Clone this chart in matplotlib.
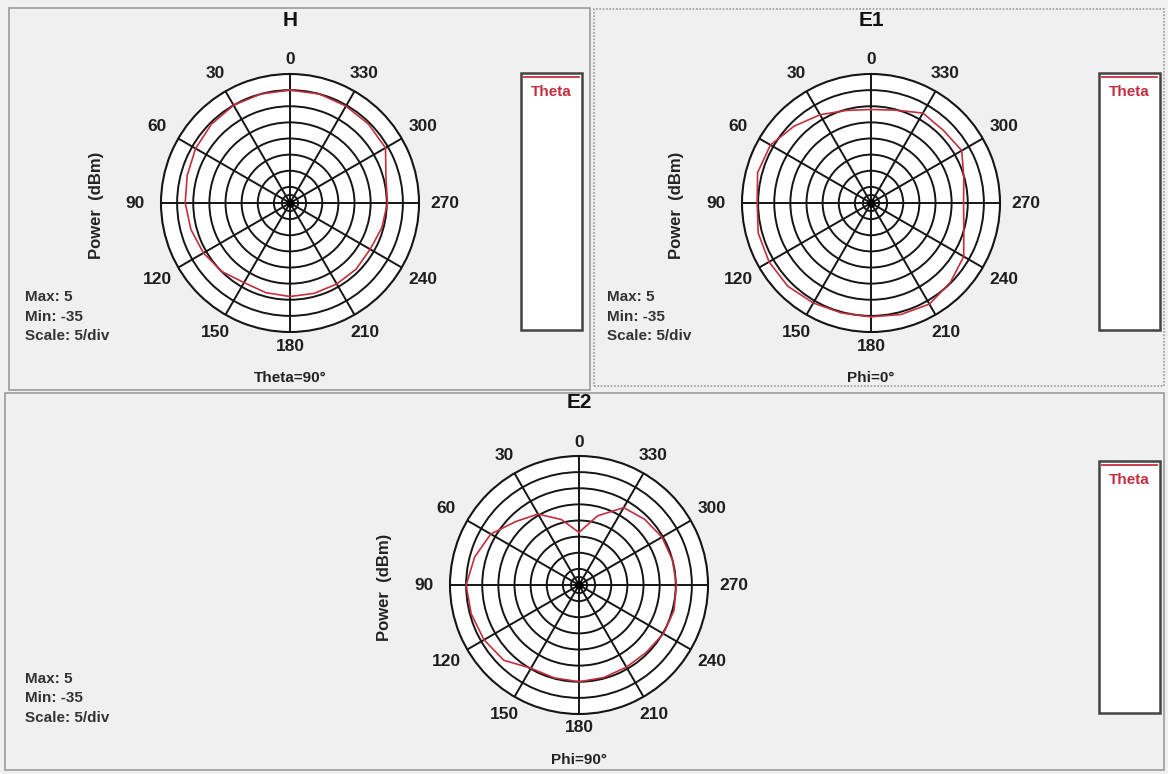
import numpy as np
import matplotlib
matplotlib.use("Agg")
import matplotlib.pyplot as plt
from matplotlib.patches import Rectangle
from matplotlib.lines import Line2D

# dados (angulo em graus, potencia em dBm)
angles_deg = [0, 15, 30, 45, 60, 75, 90, 105, 120, 135, 150, 165,
              180, 195, 210, 225, 240, 255, 270, 285, 300, 315, 330, 345]
h_power = [0, 0, 0, -0.5, -1.2, -2, -2.5, -3.2, -4, -5, -6.5, -6.2,
           -6, -6, -6, -6, -6.3, -5.5, -4.8, -4.2, -0.8, -0.5, -0.3, 0]
e1_power = [-6, -5.3, -3.4, -1.3, 1.0, 1.4, 0.3, 1.2, 1.5, 1.5, 0.8, 0.3,
            0.3, 0.8, 1.2, -0.2, -1.8, -5.2, -6.3, -5.2, -2.5, -3.2, -2.8, -5.2]
e2_power = [-18.7, -14, -9.6, -7.2, -3.4, -1.5, 0, -0.4, -1, -2, -5.2, -5.2,
            -5, -5.3, -5.6, -5.5, -4.8, -4.5, -4.8, -5, -5.3, -6.2, -7.3, -12.8]

grid_angles = [0, 30, 60, 90, 120, 150, 180, 210, 240, 270, 300, 330]
r_max, r_min, r_step = 5, -35, 5

W, H = 1168, 774
BG = "#f0f0f0"
RED = "#c42f3f"
FONT = "Liberation Sans"

fig = plt.figure(figsize=(W / 100, H / 100), dpi=100, facecolor=BG)


def fx(x):
    return x / W


def fy(y):
    return 1 - y / H


def panel_box(x0, y0, x1, y1, dotted=False):
    ls = (0, (1, 1)) if dotted else "-"
    fig.add_artist(Rectangle((fx(x0), fy(y1)), fx(x1 - x0), (y1 - y0) / H,
                             transform=fig.transFigure, facecolor=BG,
                             edgecolor="#9a9a9a", lw=1.2, ls=ls, zorder=0))


def legend_box(x0, y0, x1, y1):
    fig.add_artist(Rectangle((fx(x0), fy(y1)), fx(x1 - x0), (y1 - y0) / H,
                             transform=fig.transFigure, facecolor="white",
                             edgecolor="#444444", lw=1.8, zorder=1))
    fig.add_artist(Line2D([fx(x0 + 3), fx(x1 - 3)], [fy(y0 + 4)] * 2,
                          color=RED, lw=1.3, transform=fig.transFigure, zorder=2))
    fig.text(fx((x0 + x1) / 2), fy(y0 + 19), "Theta", color=RED, fontsize=11,
             fontweight="bold", family=FONT, ha="center", va="center")


def polar_panel(cx, cy, power, title, subtitle, ylab_x, info_x, info_y):
    R = 129
    ax = fig.add_axes([fx(cx - R), fy(cy + R), 2 * R / W, 2 * R / H],
                      projection="polar")
    ax.set_theta_zero_location("N")
    ax.set_theta_direction(1)
    ax.set_ylim(r_min, r_max)
    ax.set_facecolor("white")
    ax.set_rgrids([-32.5] + list(range(r_min + r_step, r_max, r_step)), labels=[])
    ax.set_thetagrids(grid_angles, labels=[])
    ax.grid(True, color="#151515", lw=1.4)
    ax.spines["polar"].set_color("#151515")
    ax.spines["polar"].set_linewidth(1.5)
    ax.tick_params(length=0)

    th = np.deg2rad(angles_deg + [angles_deg[0]])
    ax.plot(th, power + [power[0]], color=RED, lw=1.2, zorder=5)
    ax.plot(0, r_min, "o", color="black", ms=5, zorder=6)

    # rotulos dos angulos
    for a in grid_angles:
        rr = 143 + 12 * abs(np.sin(np.deg2rad(a)))
        x = cx - rr * np.sin(np.deg2rad(a))
        y = cy - rr * np.cos(np.deg2rad(a))
        fig.text(fx(x), fy(y), str(a), fontsize=12.5, fontweight="bold",
                 family=FONT, color="#1e1e1e", ha="center", va="center")

    fig.text(fx(cx), fy(cy - 183), title, fontsize=15, fontweight="bold",
             family=FONT, color="#111111", ha="center", va="center")
    fig.text(fx(cx), fy(cy + 175), subtitle, fontsize=11, fontweight="bold",
             family=FONT, color="#222222", ha="center", va="center")
    fig.text(fx(ylab_x), fy(cy + 2), "Power  (dBm)", fontsize=12,
             fontweight="bold", family=FONT, color="#222222", rotation=90,
             ha="center", va="center")
    for i, s in enumerate(["Max: 5", "Min: -35", "Scale: 5/div"]):
        fig.text(fx(info_x), fy(info_y + 19.5 * i), s, fontsize=11,
                 fontweight="bold", family=FONT, color="#333333",
                 ha="left", va="center")
    return ax


# paineis de fundo
panel_box(9, 8, 590, 390)
panel_box(594, 9, 1164, 386, dotted=True)
panel_box(5, 393, 1164, 770)

polar_panel(290, 203, h_power, "H", "Theta=90°", 96, 25, 297)
polar_panel(871, 203, e1_power, "E1", "Phi=0°", 677, 607, 297)
polar_panel(579, 585, e2_power, "E2", "Phi=90°", 384, 25, 679)

legend_box(521, 73, 582, 330)
legend_box(1099, 73, 1160, 330)
legend_box(1099, 461, 1160, 713)

fig.savefig("out.png", dpi=100, facecolor=BG)
